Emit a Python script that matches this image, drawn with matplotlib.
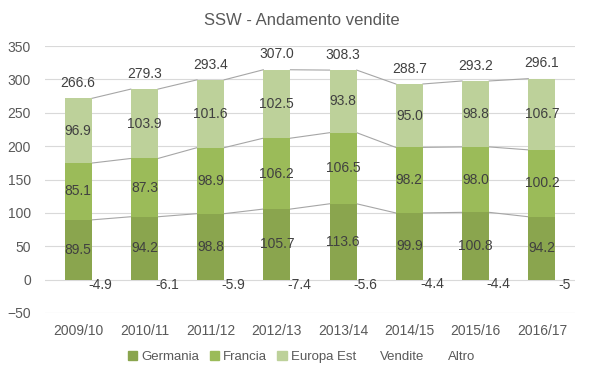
import numpy as np
import matplotlib
matplotlib.use("Agg")
import matplotlib.pyplot as plt
from matplotlib.patches import Patch

plt.rcParams['font.family'] = ['Liberation Sans', 'DejaVu Sans']

# data
years = ['2009/10', '2010/11', '2011/12', '2012/13', '2013/14', '2014/15', '2015/16', '2016/17']
germania = [89.5, 94.2, 98.8, 105.7, 113.6, 99.9, 100.8, 94.2]
francia = [85.1, 87.3, 98.9, 106.2, 106.5, 98.2, 98.0, 100.2]
europa_est = [96.9, 103.9, 101.6, 102.5, 93.8, 95.0, 98.8, 106.7]
altro = [-4.9, -6.1, -5.9, -7.4, -5.6, -4.4, -4.4, -5]
vendite = [266.6, 279.3, 293.4, 307.0, 308.3, 288.7, 293.2, 296.1]

colors = ['#8aa54e', '#9bbb59', '#bdd19a']
text_col = '#404040'

fig = plt.figure(figsize=(6.03, 3.78), dpi=100)
ax = fig.add_axes([45 / 603, 65 / 378, 530 / 603, 267 / 378])

x = np.arange(len(years))
w = 0.41
series = [germania, francia, europa_est]
bottom = np.zeros(len(years))
tops = []
for vals, c in zip(series, colors):
    vals = np.array(vals)
    ax.bar(x, vals, w, bottom=bottom, color=c, zorder=2)
    for xi, b, v in zip(x, bottom, vals):
        ax.text(xi, b + v / 2, f'{v:.1f}', ha='center', va='center',
                fontsize=10, color=text_col, zorder=4)
    bottom = bottom + vals
    tops.append(bottom.copy())

# series lines between bars
for t in tops:
    for i in range(len(x) - 1):
        ax.plot([x[i] + w / 2, x[i + 1] - w / 2], [t[i], t[i + 1]],
                color='#a6a6a6', lw=0.8, zorder=1)

# totals (Vendite)
for xi, t, v in zip(x, tops[-1], vendite):
    ax.annotate(f'{v:.1f}', (xi, t), xytext=(0, 6), textcoords='offset points',
                ha='center', va='bottom', fontsize=10, color=text_col)

# Altro labels
for xi, v in zip(x, altro):
    ax.text(xi + 0.34, v / 2 - 5, f'{v:g}', ha='center', va='center',
            fontsize=10, color=text_col)

ax.set_xlim(-0.5, len(years) - 0.5)
ax.set_ylim(-50, 350)
ax.set_yticks(np.arange(-50, 351, 50))
ax.set_xticks(x)
ax.set_xticklabels(years)
ax.grid(axis='y', color='#d9d9d9', lw=0.8, zorder=0)
ax.set_axisbelow(True)
for s in ax.spines.values():
    s.set_visible(False)
ax.tick_params(length=0, labelsize=10, colors='#595959', pad=8)
ax.tick_params(axis='y', pad=10)

fig.text(0.5, 0.947, 'SSW - Andamento vendite', ha='center', va='center',
         fontsize=12, color='#595959',
         family=['Liberation Sans Narrow', 'Liberation Sans', 'DejaVu Sans'])

handles = [Patch(color=colors[0]), Patch(color=colors[1]), Patch(color=colors[2]),
           Patch(facecolor='none', edgecolor='none'), Patch(facecolor='none', edgecolor='none')]
labels = ['Germania', 'Francia', 'Europa Est', 'Vendite', 'Altro']
fig.legend(handles, labels, loc='center', bbox_to_anchor=(0.5, 0.056), ncol=5,
           frameon=False, fontsize=9.5, handlelength=0.7, handleheight=0.7,
           handletextpad=0.3, columnspacing=0.8, labelcolor='#595959')

fig.savefig('out.png', dpi=100)
